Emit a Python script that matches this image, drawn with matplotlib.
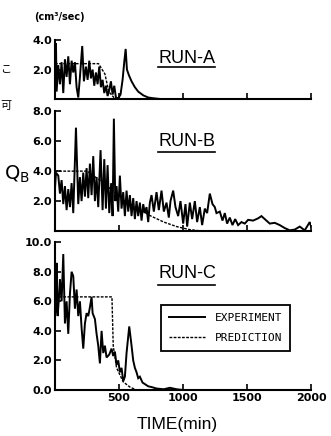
import matplotlib
matplotlib.use("Agg")
import matplotlib.pyplot as plt
from matplotlib.lines import Line2D

# ---- data ----
# RUN-A
a_exp_t = [0, 8, 13, 26, 39, 52, 65, 78, 91, 104, 117, 130, 143, 156, 169, 182, 195,
           213, 226, 242, 255, 268, 281, 294, 307, 320, 333, 346, 359, 372, 385, 398,
           411, 424, 437, 450, 463, 476, 494, 512, 528, 541, 552, 562, 578, 598, 624,
           650, 689, 728, 767, 820, 2000]
a_exp_q = [0.3, 3.8, 0.5, 2.3, 1.0, 2.5, 0.4, 2.7, 1.5, 2.9, 1.0, 2.6, 1.8, 2.5, 0.8,
           0.1, 1.5, 3.6, 1.2, 2.2, 1.3, 2.6, 1.4, 2.0, 0.9, 1.8, 1.0, 2.2, 0.8, 1.3,
           0.4, 0.9, 0.2, 0.6, 1.2, 0.3, 0.9, 0.1, 0.05, 0.3, 1.3, 2.5, 3.4, 2.0, 1.6,
           1.2, 0.8, 0.5, 0.25, 0.1, 0.05, 0.0, 0.0]
a_pre_t = [0, 340, 390, 420, 460, 520, 2000]
a_pre_q = [2.4, 2.4, 1.7, 0.5, 0.1, 0.0, 0.0]

# RUN-B
b_exp_t = [0, 8, 26, 39, 52, 65, 78, 91, 104, 117, 130, 143, 164, 182, 195, 208, 221,
           234, 247, 260, 273, 286, 299, 312, 325, 338, 356, 372, 385, 398, 411, 424,
           439, 450, 460, 471, 481, 494, 507, 520, 533, 546, 559, 572, 585, 598, 611,
           624, 637, 650, 663, 676, 689, 702, 715, 728, 741, 754, 772, 793, 811, 832,
           850, 871, 889, 902, 923, 941, 962, 980, 1001, 1019, 1032, 1053, 1071, 1092,
           1110, 1131, 1149, 1170, 1188, 1209, 1230, 1248, 1261, 1287, 1308, 1326,
           1344, 1365, 1386, 1407, 1430, 1456, 1482, 1508, 1547, 1586, 1612, 1638,
           1677, 1716, 1755, 1794, 1833, 1872, 1911, 1950, 1989, 2000]
b_exp_q = [2.8, 3.9, 3.7, 2.5, 3.4, 1.8, 3.0, 1.4, 2.8, 1.6, 3.2, 1.2, 6.9, 1.8, 3.6,
           2.0, 3.9, 2.3, 4.2, 2.2, 4.5, 2.4, 5.0, 2.0, 3.6, 1.6, 5.4, 1.4, 4.8, 1.5,
           4.4, 1.2, 3.2, 1.0, 7.5, 2.0, 3.0, 1.3, 3.7, 1.5, 2.6, 1.0, 2.7, 1.3, 2.4,
           1.0, 2.2, 0.8, 2.0, 1.0, 1.9, 0.7, 1.8, 1.2, 1.6, 0.6, 1.9, 2.4, 1.3, 2.6,
           1.4, 2.7, 1.3, 1.9, 0.9, 2.0, 2.7, 1.6, 1.0, 2.0, 0.5, 1.8, 0.3, 1.9, 0.8,
           2.0, 0.6, 1.6, 0.4, 1.5, 1.2, 2.5, 1.8, 1.6, 1.2, 1.3, 0.7, 1.2, 0.5, 0.9,
           0.4, 0.8, 0.4, 0.6, 0.5, 0.75, 0.7, 0.85, 1.0, 0.8, 0.5, 0.55, 0.4, 0.2,
           0.05, 0.1, 0.3, 0.05, 0.6, 0.3]
b_pre_t = [0, 250, 350, 450, 550, 650, 750, 850, 950, 1050, 1150, 2000]
b_pre_q = [4.0, 4.0, 3.4, 2.7, 2.0, 1.5, 1.0, 0.6, 0.3, 0.1, 0.0, 0.0]

# RUN-C
c_exp_t = [0, 8, 13, 21, 31, 39, 52, 65, 78, 91, 104, 117, 130, 143, 156, 169, 182,
           195, 208, 221, 234, 247, 260, 273, 286, 294, 312, 325, 338, 351, 364, 377,
           390, 403, 424, 442, 455, 468, 481, 494, 507, 520, 533, 546, 559, 580, 598,
           611, 624, 637, 650, 663, 684, 702, 728, 754, 793, 850, 897, 950, 1000, 2000]
c_exp_q = [5.0, 5.5, 8.6, 5.0, 6.2, 7.5, 6.0, 9.2, 4.5, 6.0, 3.8, 6.5, 8.0, 7.7, 5.5,
           6.8, 5.0, 6.0, 4.2, 2.8, 4.5, 5.2, 5.0, 5.6, 6.3, 5.2, 4.8, 3.8, 3.0, 1.8,
           4.0, 2.5, 3.0, 2.2, 2.4, 2.8, 2.3, 2.6, 1.7, 2.0, 1.2, 1.5, 0.6, 0.9, 2.5,
           4.3, 3.0, 2.0, 1.5, 1.2, 0.8, 0.9, 0.5, 0.4, 0.25, 0.2, 0.1, 0.05, 0.15,
           0.05, 0.0, 0.0]
c_pre_t = [0, 445, 455, 481, 533, 585, 637, 2000]
c_pre_q = [6.3, 6.3, 3.0, 1.5, 0.55, 0.2, 0.0, 0.0]

y_ticks = {"A": [2.0, 4.0], "B": [2.0, 4.0, 6.0, 8.0],
           "C": [0.0, 2.0, 4.0, 6.0, 8.0, 10.0]}
y_max = {"A": 4.0, "B": 8.0, "C": 10.0}
x_ticks = [500, 1000, 1500, 2000]

TICK_FONT = dict(family="DejaVu Sans", weight="bold", size=8)

fig = plt.figure(figsize=(3.31, 4.36), dpi=100)
axA = fig.add_axes([0.166, 0.773, 0.774, 0.135])
axB = fig.add_axes([0.166, 0.470, 0.774, 0.275])
axC = fig.add_axes([0.166, 0.1055, 0.774, 0.339])

runs = [("A", axA, a_exp_t, a_exp_q, a_pre_t, a_pre_q),
        ("B", axB, b_exp_t, b_exp_q, b_pre_t, b_pre_q),
        ("C", axC, c_exp_t, c_exp_q, c_pre_t, c_pre_q)]

for key, ax, et, eq, pt, pq in runs:
    ax.plot(et, eq, color="black", lw=1.4, solid_joinstyle="miter", label="EXPERIMENT")
    ax.plot(pt, pq, color="black", lw=1.0, ls=(0, (2, 1)), label="PREDICTION")
    ax.set_xlim(0, 2000)
    ax.set_ylim(0, y_max[key])
    for s in ("top", "right"):
        ax.spines[s].set_visible(False)
    for s in ("left", "bottom"):
        ax.spines[s].set_linewidth(1.5)
    ax.set_yticks(y_ticks[key])
    ax.set_yticklabels([f"{v:.1f}" for v in y_ticks[key]], fontdict=TICK_FONT)
    ax.set_xticks(x_ticks)
    if key == "C":
        ax.set_xticklabels([str(v) for v in x_ticks], fontdict=TICK_FONT)
    else:
        ax.set_xticklabels([])
    ax.tick_params(direction="in", length=4, width=1.2, pad=2)

leg = axC.legend(loc="center", bbox_to_anchor=(0.402, 0.264, 0.528, 0.31),
                 prop=dict(family="DejaVu Sans Mono", size=8),
                 handlelength=3.2, handletextpad=0.9, labelspacing=0.9,
                 borderpad=0.7, fancybox=False, framealpha=1)
leg.get_frame().set_edgecolor("black")
leg.get_frame().set_linewidth(1.3)

# run labels with underline
run_font = dict(family=["Liberation Sans", "DejaVu Sans"], size=13)
for name, yc, yu in [("RUN-A", 0.866, 0.846), ("RUN-B", 0.676, 0.651),
                     ("RUN-C", 0.373, 0.346)]:
    fig.text(0.565, yc, name, ha="center", va="center", **run_font)
    fig.add_artist(Line2D([0.477, 0.650], [yu, yu], color="black", lw=1.2))

fig.text(0.18, 0.961, "(cm³/sec)", ha="center", va="center",
         family="DejaVu Sans", weight="bold", size=7)
fig.text(0.012, 0.599, r"$\mathrm{Q_B}$", ha="left", va="center", size=14)
fig.text(0.535, 0.027, "TIME(min)", ha="center", va="center",
         family=["Liberation Sans", "DejaVu Sans"], size=12.5)

# cropped page characters at left margin
fig.text(0.0, 0.84, "こ", ha="left", va="center", family="Noto Sans CJK JP", size=8)
fig.text(0.0, 0.757, "可", ha="left", va="center", family="Noto Sans CJK JP", size=8)

fig.savefig("out.png", dpi=100)
